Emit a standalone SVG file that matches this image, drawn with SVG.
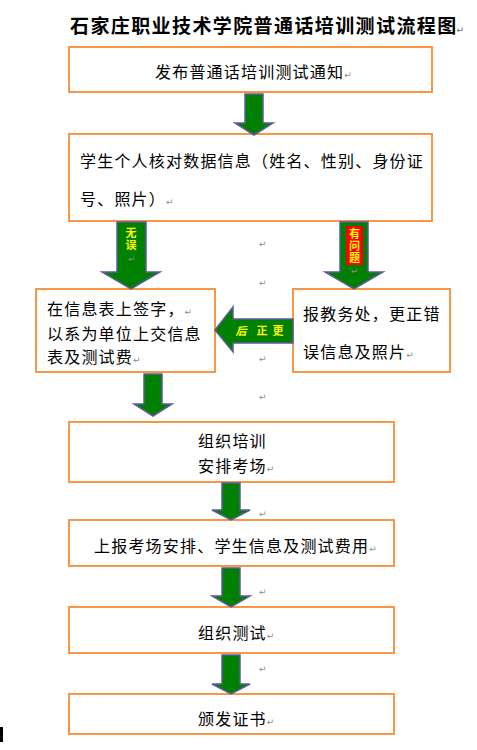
<svg xmlns="http://www.w3.org/2000/svg" width="477" height="750" viewBox="0 0 477 750">
<style>
.box{fill:#fff;stroke:#f79646;stroke-width:2}
.arr{fill:#008000;stroke:#5b5b9c;stroke-width:1.5;stroke-linejoin:miter}
.t{font-family:"Noto Sans CJK SC","Liberation Sans",sans-serif;font-size:16px;letter-spacing:1.2px;fill:#000}
.title{font-family:"Noto Sans CJK SC","Liberation Sans",sans-serif;font-size:19px;font-weight:bold;letter-spacing:1.4px;fill:#000}
.lab{font-family:"Noto Sans CJK SC","Liberation Sans",sans-serif;font-size:11px;font-weight:bold;fill:#ffff00;text-anchor:middle}
.vlab{font-family:"Noto Sans CJK SC","Liberation Sans",sans-serif;font-size:11px;font-weight:bold;fill:#ffff00;writing-mode:vertical-rl;letter-spacing:1px}
.pm{font-family:"DejaVu Sans",sans-serif;font-size:9px;fill:#8c8c8c}
</style>
<text class="title" x="70" y="33">石家庄职业技术学院普通话培训测试流程图<tspan class="pm" dx="-1">↵</tspan></text>
<g id="n1"><rect class="box" x="69" y="47" width="363" height="45"/><text class="t" x="155" y="78">发布普通话培训测试通知<tspan class="pm">↵</tspan></text></g>
<g id="n2"><rect class="box" x="69" y="134" width="363" height="87"/><text class="t" x="80" y="167">学生个人核对数据信息（姓名、性别、身份证</text><text class="t" x="80" y="205">号、照片）<tspan class="pm">↵</tspan></text></g>
<g id="n3"><rect class="box" x="36" y="289" width="179" height="83"/><text class="t" x="47" y="315">在信息表上签字，<tspan class="pm">↵</tspan></text><text class="t" x="47" y="340">以系为单位上交信息</text><text class="t" x="47" y="363">表及测试费<tspan class="pm">↵</tspan></text></g>
<g id="n4"><rect class="box" x="293" y="289" width="157" height="83"/><text class="t" x="303" y="320">报教务处，更正错</text><text class="t" x="303" y="358">误信息及照片<tspan class="pm">↵</tspan></text></g>
<g id="n5"><rect class="box" x="69" y="422" width="325" height="60"/><text class="t" x="198" y="447">组织培训</text><text class="t" x="198" y="472">安排考场<tspan class="pm">↵</tspan></text></g>
<g id="n6"><rect class="box" x="69" y="520" width="325" height="46"/><text class="t" x="94" y="552">上报考场安排、学生信息及测试费用<tspan class="pm">↵</tspan></text></g>
<g id="n7"><rect class="box" x="69" y="607" width="325" height="46"/><text class="t" x="198" y="639">组织测试<tspan class="pm">↵</tspan></text></g>
<g id="n8"><rect class="box" x="69" y="694" width="325" height="40"/><text class="t" x="198" y="725">颁发证书<tspan class="pm">↵</tspan></text></g>
<g id="connectors">
<polygon class="arr" points="245,94 263,94 263,123 273,123 254,135 235,123 245,123"/>
<polygon class="arr" points="117,222 146,222 146,272 160,272 131,289 102,272 117,272"/>
<polygon class="arr" points="340,222 368,222 368,272 383,272 354,289 325,272 340,272"/>
<polygon class="arr" points="293,319 233,319 233,307 215,330 233,352 233,343 293,343"/>
<polygon class="arr" points="144,374 162,374 162,404 172,404 153,416 134,404 144,404"/>
<polygon class="arr" points="222,483 240,483 240,510 250,510 231,520 212,510 222,510"/>
<polygon class="arr" points="222,568 240,568 240,596 250,596 231,607 212,596 222,596"/>
<polygon class="arr" points="222,655 240,655 240,684 250,684 231,694 212,684 222,684"/>
<text class="vlab" x="131" y="227">无误</text>
<text class="pm" x="128" y="262">↵</text>
<rect x="346" y="226" width="17" height="39" fill="#ff0000"/>
<text class="vlab" x="354.5" y="228">有问题</text>
<text class="pm" x="351" y="274">↵</text>
<text class="lab" x="241" y="335" font-style="italic">后</text>
<text class="lab" x="262" y="335">正</text>
<text class="lab" x="278" y="335">更</text>
</g>
<g id="marks">
<text class="pm" x="259" y="247">↵</text>
<text class="pm" x="259" y="286">↵</text>
<text class="pm" x="259" y="362">↵</text>
<text class="pm" x="259" y="400">↵</text>
<text class="pm" x="259" y="517">↵</text>
<text class="pm" x="259" y="595">↵</text>
<text class="pm" x="259" y="672">↵</text>
<rect x="0" y="727" width="3" height="15" fill="#000"/>
</g>
</svg>
